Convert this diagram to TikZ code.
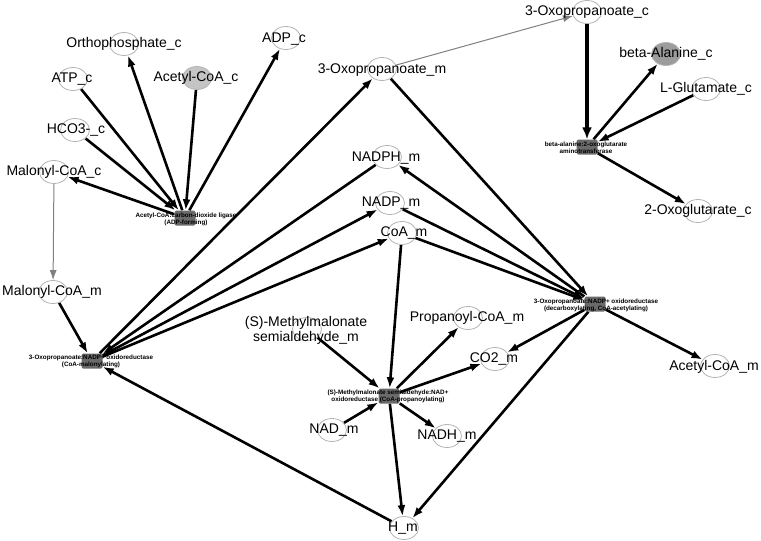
\documentclass[tikz,border=0pt]{standalone}
\usepackage{fontspec}
\setmainfont{Liberation Sans}
\usetikzlibrary{arrows.meta,shapes.geometric}
\pgfdeclarelayer{bg}
\pgfsetlayers{bg,main}
\definecolor{ring}{HTML}{B4B4B4}
\definecolor{rxfill}{HTML}{6A6A6A}
\definecolor{metlight}{HTML}{C4C4C4}
\definecolor{metdark}{HTML}{9C9C9C}
\begin{document}
\begin{tikzpicture}[x=1pt,y=-1pt,
  met/.style={ellipse,draw=ring,fill=white,line width=0.8pt,minimum width=29pt,minimum height=23pt,inner sep=0pt},
  metg/.style={met,fill=metlight},
  metd/.style={met,fill=metdark},
  rxn/.style={rectangle,rounded corners=1.5pt,fill=rxfill,minimum width=21pt,minimum height=15pt,inner sep=0pt},
  mlab/.style={font=\fontsize{14}{15}\selectfont,inner sep=0pt,align=center},
  rlab/.style={font=\fontsize{6.3}{6.8}\selectfont\bfseries,inner sep=0pt,align=center},
  e/.style={line width=2.6pt,-{Latex[length=11pt,width=8pt]}},
  ebig/.style={line width=4pt,-{Latex[length=12pt,width=10pt]}},
  ethin/.style={line width=1pt,draw=gray,-{Latex[length=10pt,width=7pt]}}
]
\useasboundingbox (0,0) rectangle (761,541);
% metabolites
\node[met]  (orth)  at (124,44)  {};
\node[met]  (atp)   at (73,79)   {};
\node[metg] (acc)   at (197,78)  {};
\node[met]  (adp)   at (286,38)  {};
\node[met]  (hco3)  at (75,130)  {};
\node[met]  (malc)  at (54,172)  {};
\node[met]  (malm)  at (53,292)  {};
\node[met]  (oxm)   at (382,69)  {};
\node[met]  (oxc)   at (587,12)  {};
\node[metd] (bala)  at (666,54)  {};
\node[met]  (lglu)  at (706,89)  {};
\node[met]  (oxg)   at (698,211) {};
\node[met]  (nadph) at (387,157) {};
\node[met]  (nadp)  at (390,203) {};
\node[met]  (coam)  at (402,233) {};
\node[met]  (accm)  at (715,366) {};
\node[met]  (mms)   at (307,329) {};
\node[met]  (prop)  at (468,318) {};
\node[met]  (co2)   at (495,359) {};
\node[met]  (nad)   at (332,430) {};
\node[met]  (nadh)  at (447,436) {};
\node[met]  (hm)    at (404,528) {};
% reactions
\node[rxn] (r1) at (185,218) {};
\node[rxn] (r2) at (92,361)  {};
\node[rxn] (r3) at (587,147) {};
\node[rxn] (r4) at (595,304) {};
\node[rxn] (r5) at (389,396) {};
% edges
\begin{pgfonlayer}{bg}
\draw[e] (atp) -- (r1);
\draw[e] (hco3) -- (r1);
\draw[e] (acc) -- (r1);
\draw[e] (r1) -- (orth);
\draw[e] (r1) -- (adp);
\draw[e] (r1) -- (malc);
\draw[ethin] (malc) -- (malm);
\draw[e] (malm) -- (r2);
\draw[e] (nadph) -- (r2);
\draw[e] (r2) -- (nadp);
\draw[e] (r2) -- (coam);
\draw[e] (r2) -- (oxm);
\draw[e] (hm) -- (r2);
\draw[ethin] (oxm) -- (oxc);
\draw[ebig] (oxc) -- (r3);
\draw[e] (r3) -- (bala);
\draw[e] (lglu) -- (r3);
\draw[e] (r3) -- (oxg);
\draw[e] (oxm) -- (r4);
\draw[e] (r4) -- (nadph);
\draw[e] (nadp) -- (r4);
\draw[e] (coam) -- (r4);
\draw[e] (r4) -- (co2);
\draw[e] (r4) -- (accm);
\draw[e] (r4) -- (hm);
\draw[e] (mms) -- (r5);
\draw[e] (coam) -- (r5);
\draw[e] (r5) -- (prop);
\draw[e] (r5) -- (co2);
\draw[e] (nad) -- (r5);
\draw[e] (r5) -- (nadh);
\draw[e] (r5) -- (hm);
\end{pgfonlayer}
% metabolite labels
\node[mlab] (orth-l)  at (124,44)  {Orthophosphate\_c};
\node[mlab] (atp-l)   at (72,79)   {ATP\_c};
\node[mlab] (acc-l)   at (196,78)  {Acetyl-CoA\_c};
\node[mlab] (adp-l)   at (284,39)  {ADP\_c};
\node[mlab] (hco3-l)  at (76,130)  {HCO3-\_c};
\node[mlab] (malc-l)  at (54,172)  {Malonyl-CoA\_c};
\node[mlab] (malm-l)  at (52,292)  {Malonyl-CoA\_m};
\node[mlab] (oxm-l)   at (382,70)  {3-Oxopropanoate\_m};
\node[mlab] (oxc-l)   at (587,12)  {3-Oxopropanoate\_c};
\node[mlab] (bala-l)  at (666,54)  {beta-Alanine\_c};
\node[mlab] (lglu-l)  at (706,89)  {L-Glutamate\_c};
\node[mlab] (oxg-l)   at (698,211) {2-Oxoglutarate\_c};
\node[mlab] (nadph-l) at (386,158) {NADPH\_m};
\node[mlab] (nadp-l)  at (391,203) {NADP\_m};
\node[mlab] (coam-l)  at (404,233) {CoA\_m};
\node[mlab] (accm-l)  at (714,367) {Acetyl-CoA\_m};
\node[mlab] (mms-l)   at (306,330) {(S)-Methylmalonate\\semialdehyde\_m};
\node[mlab] (prop-l)  at (467,318) {Propanoyl-CoA\_m};
\node[mlab] (co2-l)   at (494,359) {CO2\_m};
\node[mlab] (nad-l)   at (334,430) {NAD\_m};
\node[mlab] (nadh-l)  at (447,436) {NADH\_m};
\node[mlab] (hm-l)    at (403,528) {H\_m};
% reaction labels
\node[rlab] (r1-l) at (186,219) {Acetyl-CoA:carbon-dioxide ligase\\(ADP-forming)};
\node[rlab] (r2-l) at (91,361)  {3-Oxopropanoate:NADP+ oxidoreductase\\(CoA-malonylating)};
\node[rlab] (r3-l) at (586,148) {beta-alanine:2-oxoglutarate\\aminotransferase};
\node[rlab] (r4-l) at (596,305) {3-Oxopropanoate:NADP+ oxidoreductase\\(decarboxylating, CoA-acetylating)};
\node[rlab] (r5-l) at (388,396) {(S)-Methylmalonate semialdehyde:NAD+\\oxidoreductase (CoA-propanoylating)};
\end{tikzpicture}
\end{document}
